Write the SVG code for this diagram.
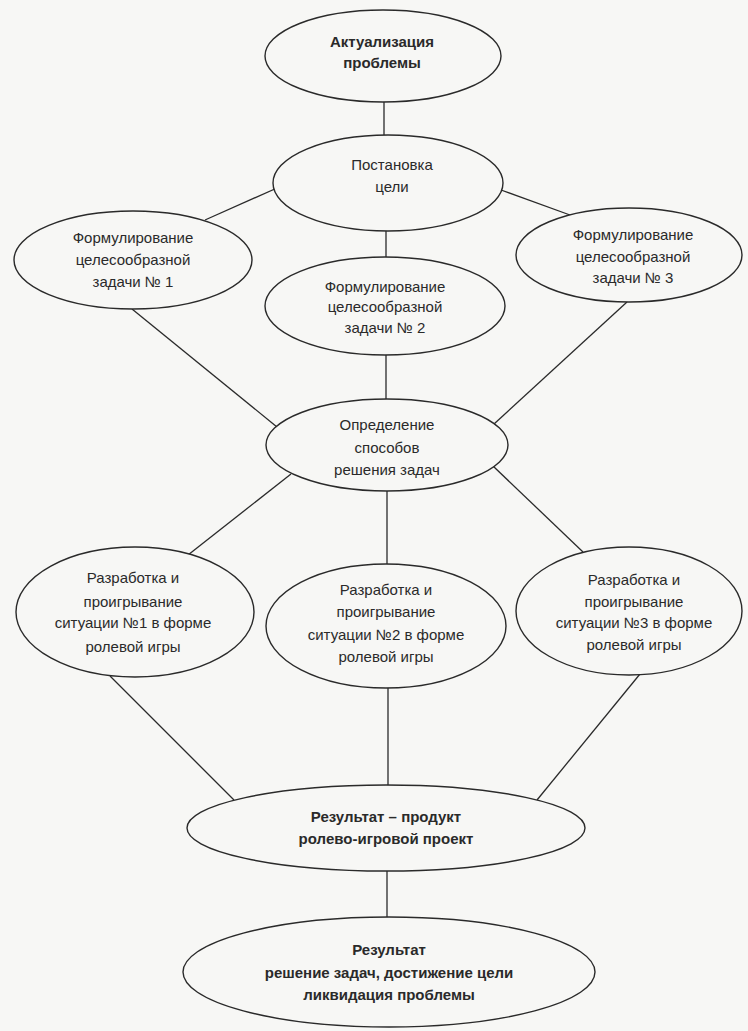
<svg xmlns="http://www.w3.org/2000/svg" width="748" height="1031" viewBox="0 0 748 1031">
<style>
.bg{fill:#f7f7f5}
.node ellipse{fill:#f7f7f5;stroke:#2a2a2a;stroke-width:1.4}
.node text{font-family:"Liberation Sans",Arial,sans-serif;font-size:15px;fill:#2a2a2a;text-anchor:middle}
.node text.b{font-weight:bold}
#connectors line{stroke:#2a2a2a;stroke-width:1.3}
</style>
<rect class="bg" x="0" y="0" width="748" height="1031"/>
<g id="connectors">
<line x1="384" y1="102" x2="384" y2="135"/>
<line x1="277" y1="188" x2="205" y2="220"/>
<line x1="386" y1="231" x2="386" y2="257"/>
<line x1="501" y1="190" x2="570" y2="215"/>
<line x1="132" y1="309" x2="277" y2="427"/>
<line x1="386" y1="355" x2="386" y2="399"/>
<line x1="627" y1="302" x2="494" y2="424"/>
<line x1="291" y1="474" x2="188" y2="555"/>
<line x1="387" y1="491" x2="387" y2="564"/>
<line x1="493" y1="466" x2="583" y2="552"/>
<line x1="110" y1="676" x2="234" y2="800"/>
<line x1="388" y1="688" x2="388" y2="785"/>
<line x1="640" y1="674" x2="537" y2="800"/>
<line x1="387" y1="871" x2="387" y2="917"/>
</g>
<g id="n-aktual" class="node">
<ellipse cx="383" cy="56" rx="118" ry="46"/>
<text class="b" x="382" y="47">Актуализация</text>
<text class="b" x="382" y="68">проблемы</text>
</g>
<g id="n-cel" class="node">
<ellipse cx="388" cy="183" rx="115" ry="48"/>
<text x="392" y="170">Постановка</text>
<text x="392" y="192">цели</text>
</g>
<g id="n-z1" class="node">
<ellipse cx="133" cy="260" rx="119" ry="49"/>
<text x="133" y="243">Формулирование</text>
<text x="133" y="265">целесообразной</text>
<text x="133" y="287">задачи № 1</text>
</g>
<g id="n-z2" class="node">
<ellipse cx="385" cy="306" rx="120" ry="49"/>
<text x="385" y="292">Формулирование</text>
<text x="385" y="312">целесообразной</text>
<text x="385" y="333">задачи № 2</text>
</g>
<g id="n-z3" class="node">
<ellipse cx="629" cy="255" rx="113" ry="47"/>
<text x="633" y="240">Формулирование</text>
<text x="633" y="262">целесообразной</text>
<text x="633" y="283">задачи № 3</text>
</g>
<g id="n-sposob" class="node">
<ellipse cx="387" cy="445" rx="121" ry="46"/>
<text x="387" y="430">Определение</text>
<text x="387" y="453">способов</text>
<text x="387" y="475">решения задач</text>
</g>
<g id="n-s1" class="node">
<ellipse cx="135" cy="612" rx="119" ry="65"/>
<text x="133" y="583">Разработка и</text>
<text x="133" y="607">проигрывание</text>
<text x="133" y="628">ситуации №1 в форме</text>
<text x="133" y="652">ролевой игры</text>
</g>
<g id="n-s2" class="node">
<ellipse cx="386" cy="626" rx="120" ry="62"/>
<text x="386" y="595">Разработка и</text>
<text x="386" y="617">проигрывание</text>
<text x="386" y="640">ситуации №2 в форме</text>
<text x="386" y="662">ролевой игры</text>
</g>
<g id="n-s3" class="node">
<ellipse cx="629" cy="611" rx="113" ry="64"/>
<text x="634" y="585">Разработка и</text>
<text x="634" y="607">проигрывание</text>
<text x="634" y="628">ситуации №3 в форме</text>
<text x="634" y="650">ролевой игры</text>
</g>
<g id="n-produkt" class="node">
<ellipse cx="386" cy="828" rx="199" ry="43"/>
<text class="b" x="386" y="822">Результат – продукт</text>
<text class="b" x="386" y="844">ролево-игровой проект</text>
</g>
<g id="n-rezultat" class="node">
<ellipse cx="389" cy="972" rx="206" ry="55"/>
<text class="b" x="389" y="955">Результат</text>
<text class="b" x="389" y="978">решение задач, достижение цели</text>
<text class="b" x="389" y="1000">ликвидация проблемы</text>
</g>
</svg>
